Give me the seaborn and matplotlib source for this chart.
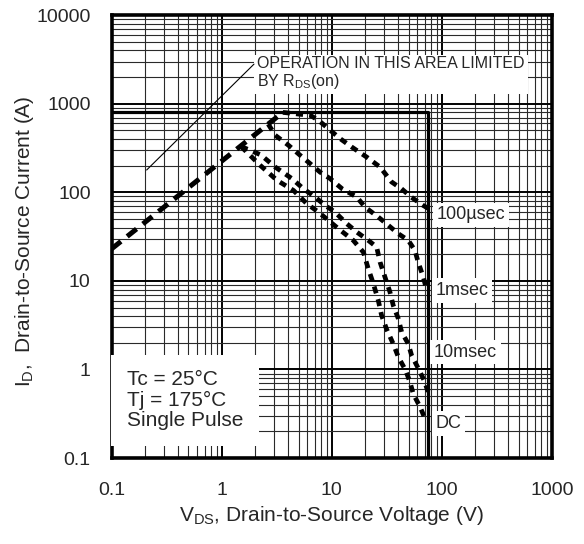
import numpy as np
import pandas as pd
import matplotlib
matplotlib.use("Agg")
import matplotlib.pyplot as plt
import matplotlib.ticker as mticker
import seaborn as sns

# Safe operating area values
rds_v = [0.1, 3.6]
rds_i = [23, 800]

us100_v = [3.6, 6.4, 7.6, 9.3, 11.9, 15.2, 20.8, 27.5, 35, 43, 53, 68, 75]
us100_i = [800, 740, 650, 525, 405, 325, 250, 193, 131, 110, 88, 71, 66]

ms1_v = [2.65, 3.07, 4.05, 5.17, 6.37, 7.85, 9.67, 12.4, 16.9, 20.1, 26.5, 32.7,
         40.3, 49.6, 57, 61, 68, 73]
ms1_i = [590, 441, 340, 262, 211, 169, 143, 110, 88.5, 68, 52.6, 42.4,
         34.1, 28.7, 22.1, 16.3, 11.0, 7.8]

ms10_v = [1.5, 2.27, 3.07, 4.35, 5.53, 7.06, 8.7, 10.7, 13.7, 16.9, 21.5, 25.6,
          27.5, 30.5, 33.8, 36.2, 40.3, 43.2, 49.6, 53.2, 60.4, 69.2, 75]
ms10_i = [330, 265, 193, 143, 110, 88.5, 71.3, 59.9, 44.3, 35.6, 28.7, 24.1,
          16.3, 11, 7.5, 5.3, 3.74, 2.64, 1.95, 1.44, 1.06, 0.75, 0.56]

dc_v = [1.5, 2.24, 3.18, 4.5, 5.94, 7.57, 11.5, 15.7, 19.4, 21.5, 23.9, 26.5,
        28.4, 31.6, 36.2, 40.3, 47, 51.4, 55.1, 63.3, 70.3]
dc_i = [330, 202, 137, 105, 74.5, 59.9, 38.9, 28.7, 21.1, 13.7, 9.3, 6.0,
        4.07, 2.83, 1.95, 1.38, 0.975, 0.72, 0.53, 0.38, 0.28]

# package limits: max current and VDSS
limit_v = [0.1, 75, 75]
limit_i = [800, 800, 0.1]

x_ticks = [0.1, 1, 10, 100, 1000]
x_labels = ["0.1", "1", "10", "100", "1000"]
y_ticks = [0.1, 1, 10, 100, 1000, 10000]
y_labels = ["0.1", "1", "10", "100", "1000", "10000"]

sns.set_style("white")
plt.rcParams['font.family'] = ['Liberation Sans', 'DejaVu Sans']
plt.rcParams['mathtext.fontset'] = 'custom'
plt.rcParams['mathtext.rm'] = 'Liberation Sans'
plt.rcParams['mathtext.it'] = 'Liberation Sans:italic'

rect = [0.191, 0.158, 0.754, 0.814]
fig = plt.figure(figsize=(5.84, 5.44), dpi=100)
ax = fig.add_axes(rect)
ax.set_xscale('log')
ax.set_yscale('log')
ax.set_xlim(0.1, 1000)
ax.set_ylim(0.1, 10000)

# log paper grid
ax.xaxis.set_minor_locator(mticker.LogLocator(base=10, subs=np.arange(2, 10)))
ax.yaxis.set_minor_locator(mticker.LogLocator(base=10, subs=np.arange(2, 10)))
ax.grid(which='major', color='black', lw=1.4)
ax.grid(which='minor', color='#2a2a2a', lw=0.8)
ax.set_axisbelow(True)

ax.set_xticks(x_ticks)
ax.set_xticklabels(x_labels)
ax.set_yticks(y_ticks)
ax.set_yticklabels(y_labels)
ax.xaxis.set_minor_formatter(mticker.NullFormatter())
ax.yaxis.set_minor_formatter(mticker.NullFormatter())
ax.tick_params(which='both', length=0, labelsize=14)
ax.tick_params(axis='x', pad=17)
ax.tick_params(axis='y', pad=15)

for s in ax.spines.values():
    s.set_linewidth(2.6)
    s.set_color('black')

sns.lineplot(x=limit_v, y=limit_i, ax=ax, color='black', lw=2.3,
             estimator=None, sort=False)
sns.lineplot(x=rds_v, y=rds_i, ax=ax, color='black', lw=3.6,
             linestyle=(0, (2.4, 1.6)), estimator=None, sort=False)
for v, i in [(us100_v, us100_i), (ms1_v, ms1_i), (ms10_v, ms10_i), (dc_v, dc_i)]:
    sns.lineplot(x=v, y=i, ax=ax, color='black', lw=3.4,
                 linestyle=(0, (1.5, 1.3)), estimator=None, sort=False)

white = dict(boxstyle='square,pad=0.2', fc='white', ec='none')
ax.text(90, 56, "100µsec", fontsize=13, va='center', ha='left', bbox=white)
ax.text(88, 7.8, "1msec", fontsize=13, va='center', ha='left', bbox=white)
ax.text(85, 1.56, "10msec", fontsize=13, va='center', ha='left', bbox=white)
ax.text(88, 0.245, "DC", fontsize=13, va='center', ha='left', bbox=white)

ax.text(0.138, 0.45, "Tc = 25°C\nTj = 175°C\nSingle Pulse", fontsize=15,
        va='center', ha='left', linespacing=1.08,
        bbox=dict(boxstyle='square,pad=0.75', fc='white', ec='none'))

ax.text(2.1, 2200, "OPERATION IN THIS AREA LIMITED\nBY R$_{\\mathrm{DS}}$(on)",
        fontsize=11.5, va='center', ha='left', linespacing=1.1,
        bbox=dict(boxstyle='square,pad=0.2', fc='white', ec='none'))
ax.annotate('', xy=(0.2, 170), xytext=(2.05, 2950),
            arrowprops=dict(arrowstyle='-', lw=0.8, color='black'))

# inward ticks drawn on top of the white text boxes
tk = fig.add_axes(rect, sharex=ax, sharey=ax)
tk.patch.set_visible(False)
for s in tk.spines.values():
    s.set_visible(False)
tk.grid(False)
tk.tick_params(which='both', direction='in', labelleft=False, labelbottom=False)
tk.tick_params(axis='x', which='both', length=7, width=0.9)
tk.tick_params(axis='y', which='major', length=13, width=2)
tk.tick_params(axis='y', which='minor', length=6, width=0.9)

ax.set_xlabel("V$_{\\mathrm{DS}}$, Drain-to-Source Voltage (V)", fontsize=15)
ax.set_ylabel("I$_{\\mathrm{D}}$,  Drain-to-Source Current (A)", fontsize=15)
ax.xaxis.set_label_coords(0.5, -0.103)
ax.yaxis.set_label_coords(-0.172, 0.49)

fig.savefig("out.png", dpi=100)
plt.close(fig)
